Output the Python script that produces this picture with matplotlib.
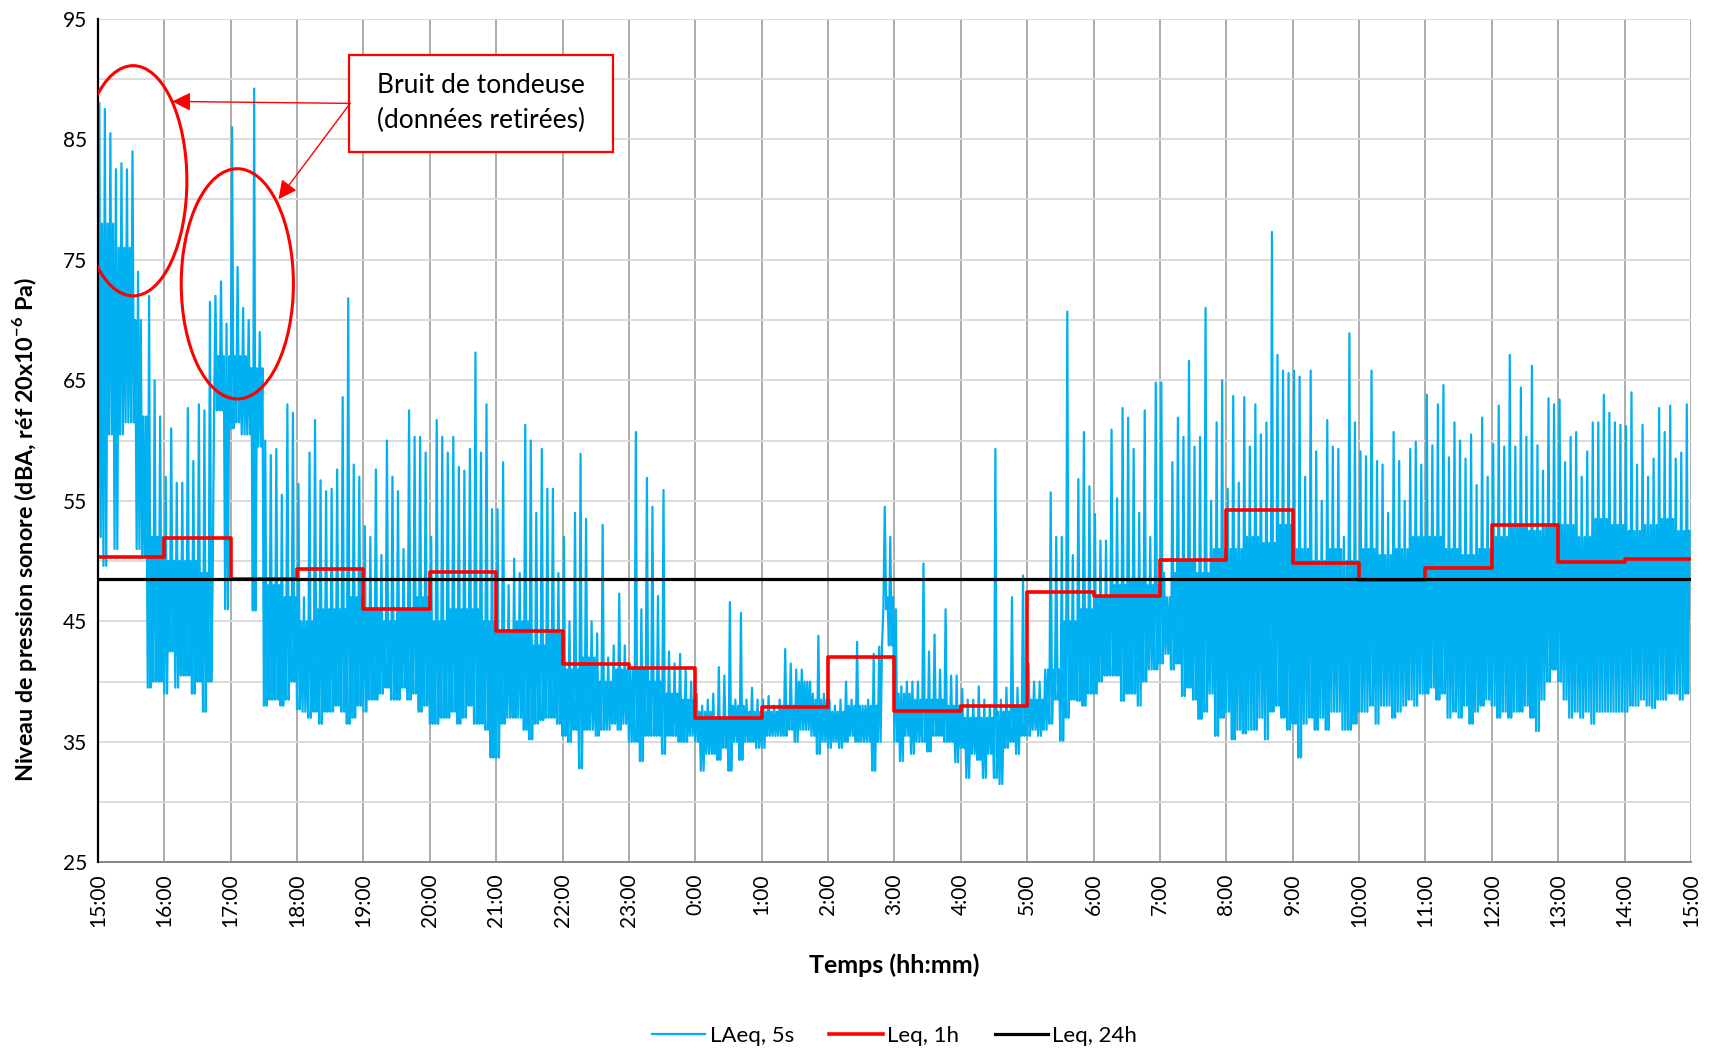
import numpy as np
import matplotlib
matplotlib.use("Agg")
import matplotlib.pyplot as plt
from matplotlib.patches import Ellipse, Rectangle
from matplotlib.lines import Line2D

plt.rcParams['font.family'] = ['Lato', 'DejaVu Sans']
plt.rcParams['mathtext.fontset'] = 'custom'
plt.rcParams['mathtext.rm'] = 'Lato'
plt.rcParams['mathtext.bf'] = 'Lato:bold'

############### Data ###############
# hour labels, from 15:00 one day to 15:00 the next
hour_labels = ["15:00", "16:00", "17:00", "18:00", "19:00", "20:00", "21:00",
               "22:00", "23:00", "0:00", "1:00", "2:00", "3:00", "4:00", "5:00",
               "6:00", "7:00", "8:00", "9:00", "10:00", "11:00", "12:00",
               "13:00", "14:00", "15:00"]

# LAeq 5s: lowest level in each 5-minute block (one row per hour, 15:00 first)
laeq_lo = [
    [52, 49.6, 60.5, 51, 60.5, 61.5, 61.5, 51, 50.5, 39.5, 40, 40],
    [39, 42.5, 39.5, 40.5, 40.5, 39, 40, 37.5, 40, 62.5, 62.5, 46],
    [61, 61.5, 60.5, 60.5, 45.9, 59.5, 38, 38.5, 38.5, 38, 38.5, 40],
    [37.7, 37.5, 37, 37.5, 36.5, 37.5, 37.5, 38, 37.5, 36.5, 37, 38],
    [37.5, 38.5, 38.5, 39, 39.5, 38.5, 38.5, 39.5, 38.5, 39, 37.5, 38],
    [36.5, 36.5, 37, 37, 37.5, 36.5, 37, 38, 36.5, 36.5, 36, 33.7],
    [33.7, 36.5, 37, 37, 37, 36, 35.2, 36.5, 36.8, 37, 37, 36.5],
    [35.5, 35, 36, 32.8, 36, 36, 35.5, 36, 36, 36.5, 36, 36.5],
    [35, 35, 33.4, 35.5, 35.5, 35.5, 34, 35.5, 35.5, 35, 35, 35.5],
    [35, 32.6, 34, 34, 33.5, 34.5, 32.6, 35, 33.5, 35, 35, 34.5],
    [34.5, 35.5, 35.5, 35.5, 35.5, 36, 35, 36, 36, 35.5, 34, 35],
    [34.5, 35, 34.5, 35, 35.5, 35, 35, 35, 32.6, 35, 46, 43],
    [35, 33.4, 35.5, 34, 35, 35, 34.2, 35.5, 35.5, 35, 35, 33.3],
    [34.5, 32, 34, 33.5, 32, 34, 32, 31.5, 34.5, 35, 34, 35.5],
    [35.5, 36, 35.5, 36, 36.5, 38.5, 35.1, 37, 38.5, 38.4, 38, 39],
    [39, 40, 40.5, 40.5, 40.5, 38.4, 39, 39, 38, 40, 41, 41],
    [41.5, 42.3, 41, 41.5, 38.8, 39.5, 38.5, 36.9, 37.5, 39, 35.5, 37],
    [37.5, 35.2, 36, 35.7, 36, 36, 37, 35.2, 37.5, 38, 37, 36],
    [36.5, 33.7, 36.5, 37, 36, 37, 36, 37.5, 37.5, 36, 36, 36.5],
    [37.5, 37.5, 38, 36.5, 38, 38, 37, 37.5, 38, 38.5, 38, 39],
    [39, 39.5, 38.5, 39, 37, 37.5, 37, 38, 36.5, 37.5, 38, 38.5],
    [38, 37, 37.5, 37, 37.5, 37.5, 38, 37, 35.9, 38.5, 40, 41],
    [40, 38.5, 37, 37.5, 37, 37.5, 36.5, 37.5, 37.5, 37.5, 37.5, 37.5],
    [37.5, 38, 38, 38.5, 38, 37.8, 38.5, 38.5, 39, 39, 38.5, 39],
]

# LAeq 5s: highest level in each 5-minute block
laeq_hi = [
    [88, 87.5, 85.5, 82.5, 83, 82.5, 84, 74, 62, 72, 65, 62],
    [57, 61, 56.5, 56.5, 62.7, 58.3, 63, 62.5, 71.5, 72, 73.2, 69.7],
    [86, 74.4, 71, 70, 89.2, 69, 60, 58.8, 59.3, 55.5, 63, 62.3],
    [56.4, 47, 59, 61.7, 56.7, 55.8, 56, 57.6, 63.6, 71.8, 58, 57],
    [52.9, 52, 57.6, 50.5, 60, 57, 55.8, 51, 62.5, 60.3, 60.3, 59],
    [52, 61.7, 60.3, 59, 60.3, 57.8, 57.5, 59.3, 67.3, 59, 63, 54.3],
    [54.3, 58.2, 48, 50.2, 49, 61.3, 60, 54, 59.3, 56, 56, 49],
    [52, 45, 54, 58.9, 53.5, 45, 44, 53, 42, 43, 47.3, 43],
    [41, 60.7, 46, 56.9, 54.5, 47.1, 55.9, 42.5, 41.5, 42.3, 41, 40],
    [39, 38, 38.5, 39, 41.2, 40.5, 46.6, 38.5, 45.7, 38.5, 39.5, 38.5],
    [38.5, 38.8, 38, 38.5, 42.7, 41.5, 41, 41, 40, 39, 43.8, 39],
    [38.5, 38, 38.5, 40, 38.5, 43.3, 38, 38.5, 42.3, 42.9, 54.5, 52],
    [46, 39.6, 40, 40, 40, 49.8, 42.5, 43.9, 41, 46, 40.5, 40.5],
    [39.4, 38.5, 38.5, 39.6, 38.5, 38, 59.3, 38.5, 39.5, 47, 39.5, 48.8],
    [41.5, 40, 40, 41, 55.7, 52, 52, 70.7, 50.5, 56.8, 60.7, 56.2],
    [53.9, 51.7, 51.7, 60.9, 55.2, 62.7, 61.9, 59.3, 54, 62.5, 52, 64.8],
    [64.8, 47, 58.2, 61.9, 60.3, 66.6, 59.5, 60.3, 71, 55, 61.5, 65],
    [56, 63.7, 56.5, 63.6, 59.5, 63, 60.5, 61.5, 77.3, 67.1, 65.8, 65.6],
    [65.8, 65.3, 57, 65.8, 59.1, 55, 61.7, 59.5, 59.3, 52, 68.9, 61.5],
    [59.1, 58.7, 65.8, 58.3, 58, 54, 60.7, 58.3, 55, 59.3, 59.9, 58],
    [63.8, 59.6, 63, 64.6, 58.6, 61.5, 60, 58.5, 60.5, 56.3, 61.9, 57],
    [59.7, 62.9, 59.5, 67.1, 59.5, 64.4, 60.3, 66.2, 59.6, 57.5, 63.5, 63],
    [63.4, 58.2, 60.3, 60.7, 57, 59.1, 61.5, 61.5, 63.8, 62.3, 61.5, 61.3],
    [61.2, 64, 58, 61.3, 57, 58.5, 62.7, 60.7, 62.9, 58.5, 59, 63],
]

# LAeq 5s: upper edge of the dense part, per quarter hour
laeq_body = [
    [78, 76, 70, 52], [50, 50, 49, 67], [67, 66, 48, 47], [45, 46, 46, 47],
    [46, 45, 46, 47], [45, 46, 46, 45], [44, 45, 43, 44], [41, 42, 40, 41],
    [41, 40, 39, 38.5], [37.5, 37, 38, 37.5], [37.5, 38, 40, 38.5], [37.5, 38, 38, 47],
    [39, 38.5, 38.5, 38], [37, 37, 37.5, 38], [38.5, 41, 45, 46], [47, 48, 48.5, 48],
    [49, 50, 49, 51], [51, 52, 51.5, 53], [51, 50, 51, 50], [51, 50.5, 51, 52],
    [52, 51, 50.5, 51], [52, 53, 52.5, 53], [53, 52, 53.5, 53], [52.5, 53, 53.5, 52.5],
]

# hourly Leq and 24 h Leq
leq_1h = [50.3, 51.9, 48.5, 49.3, 46.0, 49.1, 44.2, 41.5, 41.1, 37.0, 37.9, 42.0,
          37.6, 38.0, 47.4, 47.1, 50.1, 54.2, 49.8, 48.4, 49.4, 53.0, 49.9, 50.2]
leq_24h = 48.5

############### Build series ###############
lo = np.array(laeq_lo).ravel()
hi = np.array(laeq_hi).ravel()
body = np.repeat(np.array(laeq_body).ravel(), 3)
body = np.minimum(np.maximum(body, lo), hi)

# each 5-minute block is traced low -> peak -> low -> dense level
block = 5.0 / 60.0
t0 = np.arange(lo.size) * block
t = np.column_stack([t0, t0 + block / 4, t0 + block / 2, t0 + 3 * block / 4]).ravel()
v = np.column_stack([lo, hi, lo, body]).ravel()

hours = np.arange(25)
leq_steps = leq_1h + [leq_1h[-1]]

############### Plot ###############
fig = plt.figure(figsize=(17.12, 10.53), dpi=100)
ax = fig.add_axes([0.0572, 0.181, 0.9305, 0.8013])

ax.plot(t, v, color='#00B0F0', lw=1.6, zorder=3)
ax.step(hours, leq_steps, where='post', color='#FF0000', lw=2.6, zorder=4)
ax.plot([0, 24], [leq_24h, leq_24h], color='black', lw=2.3, zorder=5)

ax.set_xlim(0, 24)
ax.set_ylim(25, 95)
ax.set_xticks(hours)
ax.set_xticklabels(hour_labels, rotation=90, fontsize=15)
ax.set_yticks(np.arange(25, 96, 10))
ax.set_yticks(np.arange(25, 96, 5), minor=True)
ax.tick_params(axis='y', which='both', length=0, labelsize=15, pad=8)
ax.tick_params(axis='x', length=0, pad=8)

ax.grid(axis='y', which='both', color='#d9d9d9', lw=1.3, zorder=0)
ax.grid(axis='x', which='major', color='#a6a6a6', lw=1.3, zorder=0)
ax.set_axisbelow(True)
for side in ('top', 'right'):
    ax.spines[side].set_visible(False)
ax.spines['left'].set_color('black')
ax.spines['left'].set_linewidth(1.6)
ax.spines['left'].set_zorder(6)
ax.spines['bottom'].set_color('#7f7f7f')
ax.spines['bottom'].set_linewidth(1.3)

ax.set_xlabel("Temps (hh:mm)", fontsize=18, fontweight='bold')
ax.xaxis.set_label_coords(0.5, -0.108)
ax.set_ylabel(r"Niveau de pression sonore (dBA, réf 20x10$^{\mathbf{-6}}$ Pa)",
              fontsize=16.8, fontweight='bold')
ax.yaxis.set_label_coords(-0.037, 0.395)

# mower noise callout
ax.add_patch(Ellipse((0.53, 81.55), 1.62, 19.1, fill=False, ec='red', lw=2.2, zorder=7))
ax.add_patch(Ellipse((2.10, 73.0), 1.69, 19.1, fill=False, ec='red', lw=2.2, zorder=7))
ax.add_patch(Rectangle((3.786, 83.96), 3.979, 8.05, fc='white', ec='red', lw=1.6, zorder=7))
ax.text(5.775, 88.0, "Bruit de tondeuse\n(données retirées)", ha='center', va='center',
        fontsize=19, linespacing=1.45, zorder=8)
for head in [(1.119, 88.13), (2.721, 80.02)]:
    ax.annotate('', xy=head, xytext=(3.80, 87.97),
                arrowprops=dict(arrowstyle='-|>', color='red', lw=1.0,
                                mutation_scale=28, shrinkA=0, shrinkB=0),
                zorder=8)

handles = [Line2D([], [], color='#00B0F0', lw=1.6),
           Line2D([], [], color='#FF0000', lw=2.6),
           Line2D([], [], color='black', lw=2.3)]
fig.legend(handles, ["LAeq, 5s", "Leq, 1h", "Leq, 24h"], loc='center',
           bbox_to_anchor=(0.5225, 0.016), ncol=3, frameon=False, fontsize=16,
           handlelength=2.4, handletextpad=0.2, columnspacing=1.6)

fig.savefig("out.png", dpi=100)
